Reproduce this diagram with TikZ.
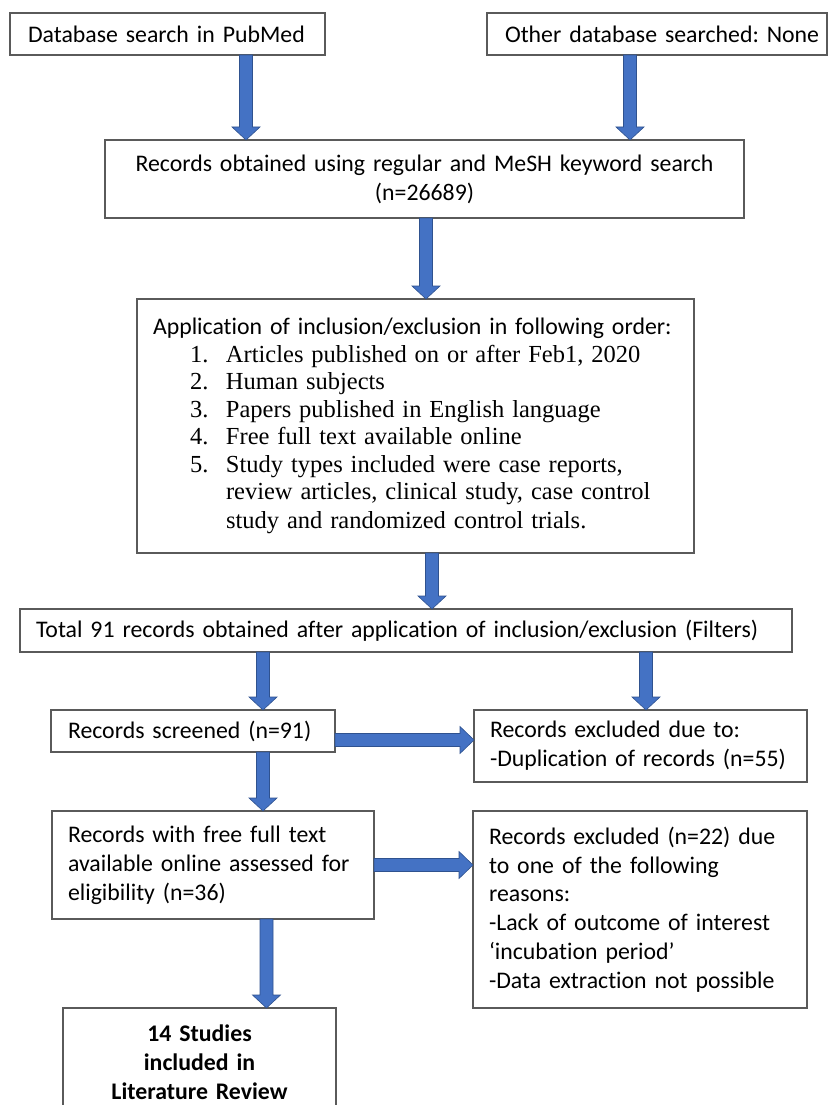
\documentclass[tikz,border=0pt]{standalone}
\usepackage{fontspec}
\setmainfont{Carlito}[Ligatures=NoCommon]
\newfontfamily\timesf{Liberation Serif}
\usetikzlibrary{calc}
\definecolor{arrowblue}{HTML}{4472C4}
\definecolor{arrowedge}{HTML}{2F528F}
\definecolor{boxline}{HTML}{5A5A5A}
\frenchspacing
\newcommand\vconn[3]{%
  \path (#1,0 |- #2.south) coordinate (vt) (#1,0 |- #3.north) coordinate (vb);
  \filldraw[barrow] ($(vt)+(-6.5,0)$) -- ($(vt)+(6.5,0)$) -- ($(vb)+(6.5,-13)$) -- ($(vb)+(14,-13)$) -- (vb) -- ($(vb)+(-14,-13)$) -- ($(vb)+(-6.5,-13)$) -- cycle;}
\newcommand\hconn[3]{%
  \path (#2.east |- 0,#1) coordinate (hl) (#3.west |- 0,#1) coordinate (hr);
  \filldraw[barrow] ($(hl)+(0,-6.5)$) -- ($(hr)+(-14,-6.5)$) -- ($(hr)+(-14,-13.5)$) -- (hr) -- ($(hr)+(-14,13.5)$) -- ($(hr)+(-14,6.5)$) -- ($(hl)+(0,6.5)$) -- cycle;}
\begin{document}
\begin{tikzpicture}[x=1pt,y=-1pt,
  box/.style={draw=boxline, line width=1.2pt, anchor=north west, outer sep=0pt, inner ysep=0pt,
    align=left, font=\fontsize{23.8pt}{28.8pt}\selectfont,
    execute at begin node=\setlength{\parindent}{0pt}\frenchspacing},
  barrow/.style={fill=arrowblue, draw=arrowedge, line width=0.6pt}]
\useasboundingbox (0,0) rectangle (828,1105);
\clip (0,0) rectangle (828,1105);
\fill[white] (0,0) rectangle (828,1105);

\node[box, minimum width=315pt, minimum height=42pt, text width=279pt, inner xsep=18pt] (A) at (10,13) {\mbox{Database search in PubMed}};
\node[box, minimum width=340pt, minimum height=42pt, text width=304pt, inner xsep=18pt] (A2) at (487,13) {\mbox{Other database searched: None}};
\node[box, minimum width=639pt, minimum height=78pt, text width=619pt, inner xsep=10pt, align=center] (B) at (105,140) {Records obtained using regular and MeSH keyword search\\(n=26689)};
\node[box, minimum width=557pt, minimum height=254pt, text width=525pt, inner xsep=16pt] (C) at (137,299) {\mbox{Application of inclusion/exclusion in following order:}\\
\timesf\fontsize{24.5pt}{27.5pt}\selectfont
\hspace*{37pt}\makebox[36pt][l]{1.}\mbox{Articles published on or after Feb1, 2020}\\
\hspace*{37pt}\makebox[36pt][l]{2.}Human subjects\\
\hspace*{37pt}\makebox[36pt][l]{3.}\mbox{Papers published in English language}\\
\hspace*{37pt}\makebox[36pt][l]{4.}\mbox{Free full text available online}\\
\hspace*{37pt}\makebox[36pt][l]{5.}\mbox{Study types included were case reports,}\\
\hspace*{73pt}\mbox{review articles, clinical study, case control}\\
\hspace*{73pt}\mbox{study and randomized control trials.}};
\node[box, minimum width=772pt, minimum height=43pt, text width=740pt, inner xsep=16pt] (D) at (20,609) {\mbox{Total 91 records obtained after application of inclusion/exclusion (Filters)}};
\node[box, minimum width=284pt, minimum height=42pt, text width=250pt, inner xsep=17pt] (E) at (51,710) {\mbox{Records screened (n=91)}};
\node[box, minimum width=333pt, minimum height=72pt, text width=301pt, inner xsep=16pt] (F) at (474,710) {\mbox{Records excluded due to:}\\\mbox{-Duplication of records (n=55)}};
\node[box, minimum width=322pt, minimum height=108pt, text width=290pt, inner xsep=16pt] (G) at (52,811) {\mbox{Records with free full text}\\\mbox{available online assessed for}\\\mbox{eligibility (n=36)}};
\node[box, minimum width=334pt, minimum height=197pt, text width=302pt, inner xsep=16pt] (H) at (473,811) {\mbox{Records excluded (n=22) due}\\\mbox{to one of the following}\\reasons:\\\mbox{-Lack of outcome of interest}\\\mbox{‘incubation period’}\\\mbox{-Data extraction not possible}};
\node[box, minimum width=273pt, minimum height=108pt, text width=253pt, inner xsep=10pt, align=center, font=\fontsize{23.8pt}{28.8pt}\selectfont\bfseries] (I) at (63,1008) {14 Studies\\included in\\Literature Review};

\vconn{246}{A}{B}
\vconn{630}{A2}{B}
\vconn{426}{B}{C}
\vconn{432}{C}{D}
\vconn{263}{D}{E}
\vconn{646}{D}{F}
\hconn{740}{E}{F}
\vconn{263}{E}{G}
\hconn{865}{G}{H}
\vconn{266.5}{G}{I}
\end{tikzpicture}
\end{document}
